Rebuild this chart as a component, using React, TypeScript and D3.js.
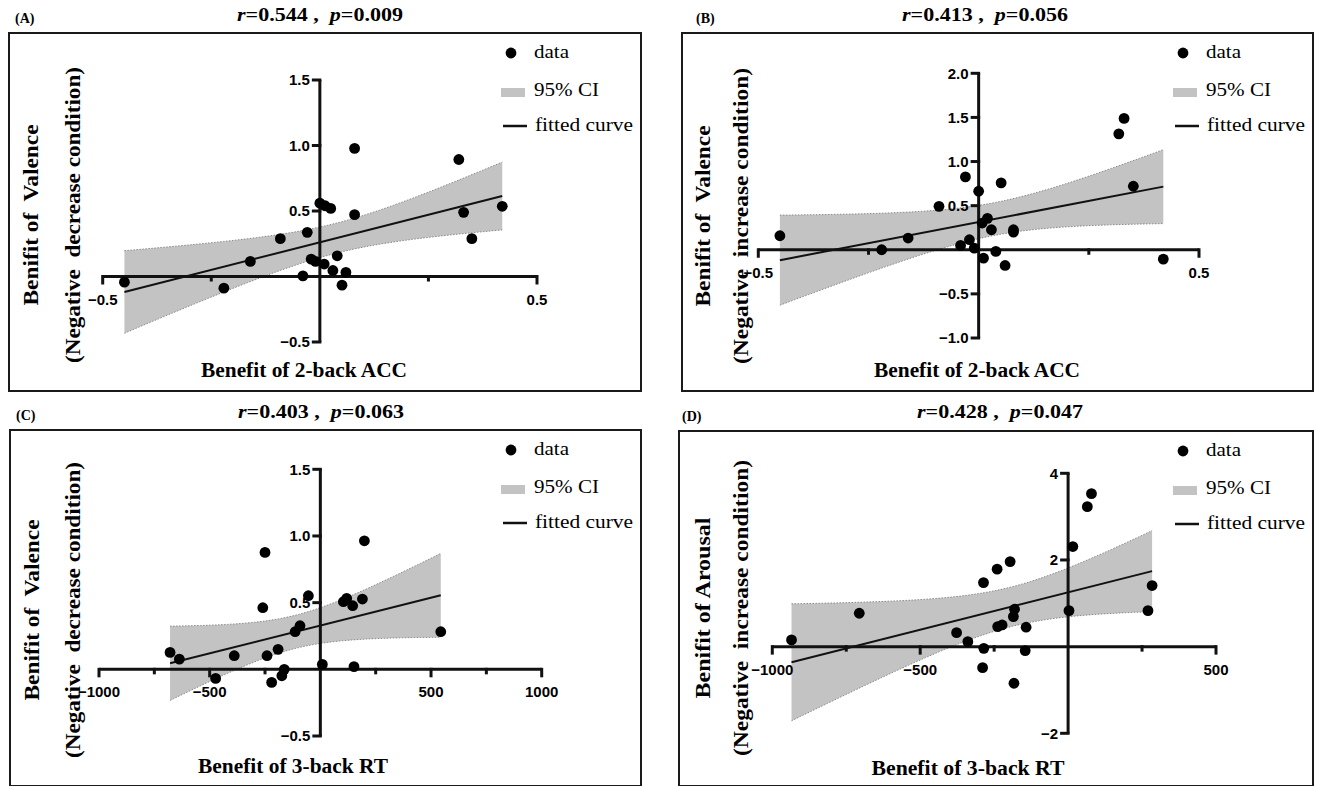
import React, { useEffect, useRef } from 'react';
import * as d3 from 'd3';

// (A) benefit of 2-back ACC vs valence benefit (negative decrease condition)
const accA = [-0.45, -0.221, -0.16, -0.091, -0.029, -0.039, -0.02, -0.01, 0.01, 0.03, 0.04, 0.06, 0.051, 0.0, 0.012, 0.025, 0.08, 0.08, 0.32, 0.331, 0.35, 0.42];
const valDecA = [-0.043, -0.089, 0.115, 0.289, 0.337, 0.005, 0.133, 0.115, 0.095, 0.046, 0.158, 0.031, -0.066, 0.56, 0.54, 0.52, 0.978, 0.472, 0.893, 0.49, 0.289, 0.536];

// (B) benefit of 2-back ACC vs valence benefit (negative increase condition)
const accB = [-0.451, -0.22, -0.16, -0.09, -0.03, -0.041, -0.021, -0.01, 0.0, 0.011, 0.02, 0.008, 0.029, 0.039, 0.06, 0.051, 0.079, 0.079, 0.318, 0.33, 0.351, 0.419];
const valIncB = [0.159, 0.0, 0.133, 0.492, 0.826, 0.049, 0.114, 0.019, 0.663, -0.095, 0.356, 0.303, 0.227, -0.019, -0.178, 0.758, 0.227, 0.2, 1.314, 1.489, 0.72, -0.106];

// (C) benefit of 3-back RT vs valence benefit (negative decrease condition)
const rtC = [-679, -637, -473, -389, -260, -250, -241, -220, -191, -174, -163, -114, -92, -54, 9, 104, 119, 146, 152, 190, 199, 544];
const valDecC = [0.127, 0.077, -0.068, 0.102, 0.462, 0.877, 0.102, -0.098, 0.15, -0.048, 0.0, 0.282, 0.327, 0.552, 0.037, 0.507, 0.532, 0.477, 0.02, 0.527, 0.964, 0.282];

// (D) benefit of 3-back RT vs arousal benefit (negative increase condition)
const rtD = [-935, -706, -377, -339, -285, -289, -286, -240, -238, -223, -196, -181, -185, -183, -142, -145, 3, 16, 65, 79, 270, 284];
const arousalD = [0.155, 0.77, 0.323, 0.115, -0.04, -0.485, 1.478, 1.788, 0.462, 0.5, 1.963, 0.863, 0.693, -0.845, 0.448, -0.092, 0.83, 2.31, 3.23, 3.53, 0.83, 1.41];

const stats = [
  { r: '0.544', p: '0.009' },
  { r: '0.413', p: '0.056' },
  { r: '0.403', p: '0.063' },
  { r: '0.428', p: '0.047' },
];

const accTicks = [-0.5, -0.25, 0.25, 0.5];
const accLabels = [-0.5, 0.5];
const rtTicksC = [-1000, -750, -500, -250, 250, 500, 750, 1000];
const rtLabelsC = [-1000, -500, 500, 1000];
const rtTicksD = [-1000, -750, -500, -250, 250, 500];
const rtLabelsD = [-1000, -500, 500];
const valTicks = [-0.5, 0.5, 1.0, 1.5];
const valIncTicks = [-1.0, -0.5, 0.5, 1.0, 1.5, 2.0];
const arousalTicks = [-2, 2, 4];

const legendItems = ['data', '95% CI', 'fitted curve'];

const SERIF = '"Liberation Serif", "Times New Roman", Times, serif';
const SANS = '"Liberation Sans", Arial, Helvetica, sans-serif';
const T_CRIT = 2.086; // t(0.975), df = 20

const panels = [
  {
    tag: '(A)', stat: stats[0], xs: accA, ys: valDecA,
    xDomain: [-0.5, 0.5], yDomain: [-0.5, 1.5],
    xTicks: accTicks, xLabels: accLabels, yTicks: valTicks, xFmt: d3.format('.1f'), yFmt: d3.format('.1f'),
    xTitle: 'Benefit of 2-back ACC', yTitle: ['Benifit of  Valence', '(Negative  decrease condition)'],
    frame: [9, 33, 641, 391], xRange: [102.7, 537], yRange: [342, 80],
    titleX: 320, titleY: 21, tagX: 15, tagY: 23, xTitleX: 304, xTitleY: 377, xTitleLen: 206,
    yTitleX: [30, 72], yTitleY: 215,
  },
  {
    tag: '(B)', stat: stats[1], xs: accB, ys: valIncB,
    xDomain: [-0.5, 0.5], yDomain: [-1, 2],
    xTicks: accTicks, xLabels: accLabels, yTicks: valIncTicks, xFmt: d3.format('.1f'), yFmt: d3.format('.1f'),
    xTitle: 'Benefit of 2-back ACC', yTitle: ['Benifit of  Valence', '(Negative  increase condition)'],
    frame: [682, 33, 1313, 391], xRange: [758.3, 1199], yRange: [338, 73.3],
    titleX: 985, titleY: 21, tagX: 696, tagY: 23, xTitleX: 977, xTitleY: 377, xTitleLen: 206,
    yTitleX: [702, 740], yTitleY: 216,
  },
  {
    tag: '(C)', stat: stats[2], xs: rtC, ys: valDecC,
    xDomain: [-1000, 1000], yDomain: [-0.5, 1.5],
    xTicks: rtTicksC, xLabels: rtLabelsC, yTicks: valTicks, xFmt: d3.format('d'), yFmt: d3.format('.1f'),
    xTitle: 'Benefit of 3-back RT', yTitle: ['Benifit of  Valence', '(Negative  decrease condition)'],
    frame: [10, 430, 641, 786], xRange: [99, 541.7], yRange: [736, 469.3],
    titleX: 321, titleY: 418, tagX: 16, tagY: 420, xTitleX: 293, xTitleY: 773, xTitleLen: 190,
    yTitleX: [31, 72], yTitleY: 610,
  },
  {
    tag: '(D)', stat: stats[3], xs: rtD, ys: arousalD,
    xDomain: [-1000, 500], yDomain: [-2, 4],
    xTicks: rtTicksD, xLabels: rtLabelsD, yTicks: arousalTicks, xFmt: d3.format('d'), yFmt: d3.format('d'),
    xTitle: 'Benefit of 3-back RT', yTitle: ['Benifit of Arousal', '(Negative  increase condition)'],
    frame: [679, 431, 1313, 786], xRange: [772.3, 1216], yRange: [733.3, 473.3],
    titleX: 1000, titleY: 418, tagX: 682, tagY: 421, xTitleX: 968, xTitleY: 775, xTitleLen: 193,
    yTitleX: [702, 740], yTitleY: 608,
  },
];

function fit(xs, ys) {
  const n = xs.length;
  const mx = d3.mean(xs);
  const my = d3.mean(ys);
  const sxx = d3.sum(xs, x => (x - mx) ** 2);
  const sxy = d3.sum(xs, (x, i) => (x - mx) * (ys[i] - my));
  const b = sxy / sxx;
  const a = my - b * mx;
  const s = Math.sqrt(d3.sum(xs, (x, i) => (ys[i] - a - b * x) ** 2) / (n - 2));
  const half = x => T_CRIT * s * Math.sqrt(1 / n + (x - mx) ** 2 / sxx);
  return { a, b, half };
}

const App = () => {
  const ref = useRef(null);

  useEffect(() => {
    const svg = d3.select(ref.current);
    svg.selectAll('*').remove();

    panels.forEach(p => {
      const g = svg.append('g');
      const x = d3.scaleLinear().domain(p.xDomain).range(p.xRange);
      const y = d3.scaleLinear().domain(p.yDomain).range(p.yRange);
      const [fx0, fy0, fx1, fy1] = p.frame;

      g.append('rect')
        .attr('x', fx0).attr('y', fy0)
        .attr('width', fx1 - fx0).attr('height', fy1 - fy0)
        .attr('fill', 'none').attr('stroke', '#1a1a1a').attr('stroke-width', 2);

      g.append('text')
        .attr('x', p.tagX).attr('y', p.tagY)
        .style('font-family', SERIF).style('font-weight', 'bold').style('font-size', '14px')
        .text(p.tag);

      const title = g.append('text')
        .attr('x', p.titleX).attr('y', p.titleY)
        .attr('text-anchor', 'middle')
        .attr('textLength', 166).attr('lengthAdjust', 'spacingAndGlyphs')
        .style('white-space', 'pre')
        .style('font-family', SERIF).style('font-weight', 'bold').style('font-size', '19px');
      title.append('tspan').attr('font-style', 'italic').text('r');
      title.append('tspan').text(`=${p.stat.r} ,  `);
      title.append('tspan').attr('font-style', 'italic').text('p');
      title.append('tspan').text(`=${p.stat.p}`);

      // regression line and 95% confidence band
      const { a, b, half } = fit(p.xs, p.ys);
      const [lo, hi] = d3.extent(p.xs);
      const grid = d3.range(0, 81).map(i => lo + (hi - lo) * i / 80);

      g.append('path')
        .datum(grid)
        .attr('d', d3.area().x(v => x(v)).y0(v => y(a + b * v - half(v))).y1(v => y(a + b * v + half(v))))
        .attr('fill', '#c3c3c3');
      [1, -1].forEach(sign => {
        g.append('path')
          .datum(grid)
          .attr('d', d3.line().x(v => x(v)).y(v => y(a + b * v + sign * half(v))))
          .attr('fill', 'none').attr('stroke', '#8a8a8a').attr('stroke-width', 1)
          .attr('stroke-dasharray', '1.5,1.5');
      });

      // axes crossing at zero
      const axisStyle = sel => sel.attr('stroke', '#111').attr('stroke-width', 3).attr('fill', 'none');
      g.append('line').call(axisStyle)
        .attr('x1', x(p.xDomain[0])).attr('x2', x(p.xDomain[1]))
        .attr('y1', y(0)).attr('y2', y(0));
      g.append('line').call(axisStyle)
        .attr('x1', x(0)).attr('x2', x(0))
        .attr('y1', y(p.yDomain[0])).attr('y2', y(p.yDomain[1]));

      p.xTicks.forEach(t => {
        const major = p.xLabels.includes(t);
        g.append('line').call(axisStyle)
          .attr('x1', x(t)).attr('x2', x(t))
          .attr('y1', y(0) - 1.5).attr('y2', y(0) + (major ? 8 : 5));
        if (major) {
          g.append('text')
            .attr('x', x(t)).attr('y', y(0) + 28)
            .attr('text-anchor', 'middle')
            .style('font-family', SANS).style('font-weight', 'bold').style('font-size', '15px')
            .text(p.xFmt(t));
        }
      });

      p.yTicks.forEach(t => {
        g.append('line').call(axisStyle)
          .attr('x1', x(0) + 1.5).attr('x2', x(0) - 8)
          .attr('y1', y(t)).attr('y2', y(t));
        g.append('text')
          .attr('x', x(0) - 10).attr('y', y(t)).attr('dy', '0.36em')
          .attr('text-anchor', 'end')
          .style('font-family', SANS).style('font-weight', 'bold').style('font-size', '15px')
          .text(p.yFmt(t));
      });

      g.append('line')
        .attr('x1', x(lo)).attr('x2', x(hi))
        .attr('y1', y(a + b * lo)).attr('y2', y(a + b * hi))
        .attr('stroke', '#111').attr('stroke-width', 2);

      g.append('g')
        .selectAll('circle')
        .data(p.xs.map((v, i) => [v, p.ys[i]]))
        .enter()
        .append('circle')
        .attr('cx', d => x(d[0])).attr('cy', d => y(d[1]))
        .attr('r', 5.4)
        .attr('fill', '#000');

      // axis titles
      g.append('text')
        .attr('x', p.xTitleX).attr('y', p.xTitleY)
        .attr('text-anchor', 'middle')
        .attr('textLength', p.xTitleLen).attr('lengthAdjust', 'spacingAndGlyphs')
        .style('font-family', SERIF).style('font-weight', 'bold').style('font-size', '20px')
        .text(p.xTitle);

      p.yTitle.forEach((line, i) => {
        g.append('text')
          .attr('transform', `translate(${p.yTitleX[i]},${p.yTitleY}) rotate(-90)`)
          .attr('text-anchor', 'middle').attr('dominant-baseline', 'central')
          .attr('textLength', i === 0 ? 181 : 296).attr('lengthAdjust', 'spacingAndGlyphs')
          .style('white-space', 'pre')
          .style('font-family', SERIF).style('font-weight', 'bold').style('font-size', '22px')
          .text(line);
      });

      // legend
      const lg = g.append('g').attr('transform', `translate(${fx1},${fy0})`);
      lg.append('circle').attr('cx', -130).attr('cy', 20).attr('r', 5.4).attr('fill', '#000');
      lg.append('rect').attr('x', -140).attr('y', 55).attr('width', 24).attr('height', 9).attr('fill', '#c3c3c3');
      lg.append('line').attr('x1', -138).attr('x2', -114).attr('y1', 93).attr('y2', 93)
        .attr('stroke', '#111').attr('stroke-width', 2.5);
      const legendPos = [[-107, 25, 35], [-107, 63, 65], [-106, 98, 98]];
      legendItems.forEach((item, i) => {
        lg.append('text')
          .attr('x', legendPos[i][0]).attr('y', legendPos[i][1])
          .attr('textLength', legendPos[i][2]).attr('lengthAdjust', 'spacingAndGlyphs')
          .style('font-family', SERIF).style('font-size', '18px')
          .text(item);
      });
    });
  }, []);

  return (
    <svg
      ref={ref}
      width={1318}
      height={786}
      style={{ position: 'absolute', left: 0, top: 0, background: '#fff' }}
    />
  );
};

export default App;
